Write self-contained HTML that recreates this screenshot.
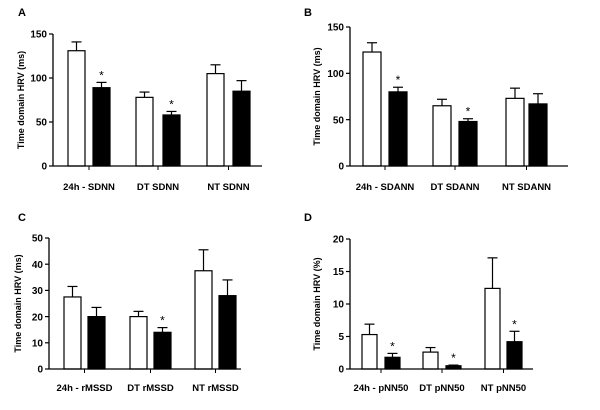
<!DOCTYPE html>
<html><head><meta charset="utf-8"><style>
body{margin:0;background:#fff;}
svg{display:block;font-family:"Liberation Sans",Arial,sans-serif;font-weight:bold;}
</style></head><body>
<svg id="chart" width="600" height="410" viewBox="0 0 600 410" xmlns="http://www.w3.org/2000/svg"></svg>
<script>
// Panel A: SDNN
const catsA = ["24h - SDNN","DT SDNN","NT SDNN"];
const whiteA = [131,78,105];
const whiteErrA = [10,6,10];
const blackA = [89,58,85];
const blackErrA = [6,4,12];
const starA = [true,true,false];
const ticksA = [0,50,100,150];
// Panel B: SDANN
const catsB = ["24h - SDANN","DT SDANN","NT SDANN"];
const whiteB = [123,65,73];
const whiteErrB = [10,7,11];
const blackB = [80,48,67];
const blackErrB = [5,3,11];
const starB = [true,true,false];
const ticksB = [0,50,100,150];
// Panel C: rMSSD
const catsC = ["24h - rMSSD","DT rMSSD","NT rMSSD"];
const whiteC = [27.5,20,37.5];
const whiteErrC = [4,2,8];
const blackC = [20,14,28];
const blackErrC = [3.5,1.8,6];
const starC = [false,true,false];
const ticksC = [0,10,20,30,40,50];
// Panel D: pNN50
const catsD = ["24h - pNN50","DT pNN50","NT pNN50"];
const whiteD = [5.3,2.6,12.4];
const whiteErrD = [1.6,0.7,4.7];
const blackD = [1.8,0.5,4.2];
const blackErrD = [0.6,0.1,1.6];
const starD = [true,true,true];
const ticksD = [0,5,10,15,20];

const svg = document.getElementById('chart');
const NS = 'http://www.w3.org/2000/svg';
function mk(tag, attrs, parent){
  const e = document.createElementNS(NS, tag);
  for (const k in attrs) e.setAttribute(k, attrs[k]);
  (parent||svg).appendChild(e);
  return e;
}

const panels = [
  {id:'a',letter:'A',lx:18,ly:16,ax:53,y0:166,yTop:34,xEnd:262,max:150,title:'Time domain HRV (ms)',titleX:24,labelY:190,
   wx:[68,136,207],bx:[93,163,233],bw:17,cats:catsA,w:whiteA,we:whiteErrA,b:blackA,be:blackErrA,st:starA,ticks:ticksA},
  {id:'b',letter:'B',lx:304,ly:16,ax:350,y0:166,yTop:27,xEnd:568,max:150,title:'Time domain HRV (ms)',titleX:320,labelY:190,
   wx:[363,433,506],bx:[389,459,529],bw:18,cats:catsB,w:whiteB,we:whiteErrB,b:blackB,be:blackErrB,st:starB,ticks:ticksB},
  {id:'c',letter:'C',lx:18,ly:221,ax:49,y0:369,yTop:238,xEnd:241,max:50,title:'Time domain HRV (ms)',titleX:21,labelY:391,
   wx:[64,130,195],bx:[88,154,219],bw:17,cats:catsC,w:whiteC,we:whiteErrC,b:blackC,be:blackErrC,st:starC,ticks:ticksC},
  {id:'d',letter:'D',lx:304,ly:221,ax:350,y0:369,yTop:239,xEnd:533,max:20,title:'Time domain HRV (%)',titleX:320,labelY:391,
   wx:[362,423,485],bx:[385,446,507],bw:15,cats:catsD,w:whiteD,we:whiteErrD,b:blackD,be:blackErrD,st:starD,ticks:ticksD}
];

panels.forEach(p=>{
  const g = mk('g',{});
  
  
  const y = v => p.y0 - (v/p.max)*(p.y0-p.yTop);
  const L = mk('text',{x:p.lx,y:p.ly,'font-size':11,fill:'#000'},g);
  L.textContent = p.letter;
  
  
  const yt = mk('text',{x:p.titleX,y:(p.y0+p.yTop)/2,'font-size':9,'text-anchor':'middle',transform:`rotate(-90 ${p.titleX} ${(p.y0+p.yTop)/2})`},g);
  yt.textContent = p.title;
  
  
  for (let i=0;i<p.cats.length;i++){
    [[p.wx[i],p.w[i],p.we[i],'#fff','white'],[p.bx[i],p.b[i],p.be[i],'#000','black']].forEach(([x,v,e,fill,kind])=>{
      const cx = x + p.bw/2;
      const el = mk('line',{x1:cx,x2:cx,y1:y(v),y2:y(v+e),stroke:'#000','stroke-width':1.2},g);
      
      
      const cap = mk('line',{x1:cx-5,x2:cx+5,y1:y(v+e),y2:y(v+e),stroke:'#000','stroke-width':1.2},g);
      
      
      const r = mk('rect',{x:x,y:y(v),width:p.bw,height:p.y0-y(v),fill:fill,stroke:'#000','stroke-width':1.2},g);
      
      
      if (kind==='black' && p.st[i]){
        const s = mk('text',{x:cx,y:y(v+e)-3,'font-size':12,'font-weight':'normal','text-anchor':'middle'},g);
        s.textContent='*';
        
        
      }
    });
    const gc = (p.wx[i] + p.bx[i] + p.bw)/2;
    const tk = mk('line',{x1:gc,x2:gc,y1:p.y0,y2:p.y0+4,stroke:'#000','stroke-width':1},g);
    
    
    const lb = mk('text',{x:gc,y:p.labelY,'font-size':9.5,'text-anchor':'middle'},g);
    lb.textContent = p.cats[i];
    
    
  }
  const ya = mk('line',{x1:p.ax,x2:p.ax,y1:p.yTop,y2:p.y0,stroke:'#000','stroke-width':1.3},g);
  
  
  const xa = mk('line',{x1:p.ax,x2:p.xEnd,y1:p.y0,y2:p.y0,stroke:'#000','stroke-width':1.3},g);
  
  
  p.ticks.forEach(t=>{
    const tl = mk('line',{x1:p.ax-4,x2:p.ax,y1:y(t),y2:y(t),stroke:'#000','stroke-width':1.2},g);
    
    
    const tt = mk('text',{x:p.ax-6,y:y(t)+3.7,'font-size':10,'text-anchor':'end'},g);
    tt.textContent = t;
    
    
  });
});
</script>
</body></html>
